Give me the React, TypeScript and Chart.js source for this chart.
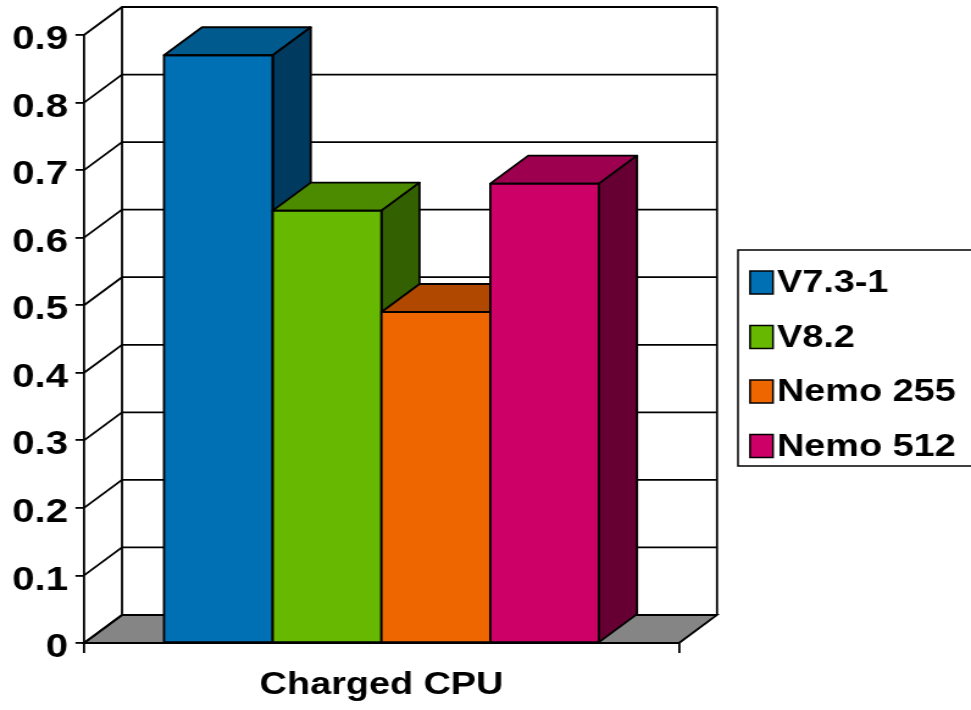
import React, { useEffect, useRef } from 'react';
import { Chart, registerables } from 'chart.js';

Chart.register(...registerables);

// ---- data ----
const categories = ['Charged CPU'];
const seriesNames = ['V7.3-1', 'V8.2', 'Nemo 255', 'Nemo 512'];
const v731 = [0.87];
const v82 = [0.64];
const nemo255 = [0.49];
const nemo512 = [0.68];
const yTickLabels = ['0', '0.1', '0.2', '0.3', '0.4', '0.5', '0.6', '0.7', '0.8', '0.9'];

// ---- styles ----
const frontColors = ['#0070B4', '#66B800', '#EE6600', '#CC0066'];
const topColors = ['#005A8E', '#4C8A00', '#B04800', '#9C004E'];
const sideColors = ['#003A5E', '#336000', '#7A3300', '#660033'];

const CW = 796; // internal canvas width (stretched horizontally to 971 on screen)
const CH = 710;
const SX = 971 / CW;
const DX = 38 / SX; // depth offset
const DY = -28;
const FONT = '"Liberation Sans", Arial, Helvetica, sans-serif';

const threeD = {
  id: 'threeD',
  beforeDatasetsDraw(chart: any) {
    const { ctx, chartArea: a, scales } = chart;
    const y = scales.y;
    const y0 = y.getPixelForValue(0);
    const yTop = y.getPixelForValue(y.max);
    ctx.save();
    ctx.lineWidth = 1.8;
    ctx.strokeStyle = '#000';
    // back wall
    ctx.fillStyle = '#ffffff';
    ctx.fillRect(a.left + DX, yTop + DY, a.right - a.left, y0 - yTop);
    // floor
    ctx.beginPath();
    ctx.moveTo(a.left, y0);
    ctx.lineTo(a.right, y0);
    ctx.lineTo(a.right + DX, y0 + DY);
    ctx.lineTo(a.left + DX, y0 + DY);
    ctx.closePath();
    ctx.fillStyle = '#858585';
    ctx.fill();
    ctx.stroke();
    // gridlines on side wall and back wall
    y.ticks.forEach((t: any) => {
      const py = y.getPixelForValue(t.value);
      ctx.beginPath();
      ctx.moveTo(a.left, py);
      ctx.lineTo(a.left + DX, py + DY);
      ctx.lineTo(a.right + DX, py + DY);
      ctx.stroke();
    });
    // back wall vertical edges
    ctx.beginPath();
    ctx.moveTo(a.left + DX, yTop + DY);
    ctx.lineTo(a.left + DX, y0 + DY);
    ctx.moveTo(a.right + DX, yTop + DY);
    ctx.lineTo(a.right + DX, y0 + DY);
    ctx.stroke();
    ctx.restore();
  },
  afterDatasetsDraw(chart: any) {
    const { ctx } = chart;
    // painter's order: left-most series first
    chart.data.datasets.forEach((_ds: any, i: number) => {
      const meta = chart.getDatasetMeta(i);
      meta.data.forEach((el: any) => {
        el.draw(ctx);
        const p = el.getProps(['x', 'y', 'base', 'width'], true);
        const l = p.x - p.width / 2;
        const r = p.x + p.width / 2;
        const t = Math.min(p.y, p.base);
        const b = Math.max(p.y, p.base);
        ctx.save();
        ctx.lineWidth = 1.8;
        ctx.strokeStyle = '#000';
        ctx.lineJoin = 'round';
        // top face
        ctx.beginPath();
        ctx.moveTo(l, t);
        ctx.lineTo(r, t);
        ctx.lineTo(r + DX, t + DY);
        ctx.lineTo(l + DX, t + DY);
        ctx.closePath();
        ctx.fillStyle = topColors[i];
        ctx.fill();
        ctx.stroke();
        // side face
        ctx.beginPath();
        ctx.moveTo(r, t);
        ctx.lineTo(r + DX, t + DY);
        ctx.lineTo(r + DX, b + DY);
        ctx.lineTo(r, b);
        ctx.closePath();
        ctx.fillStyle = sideColors[i];
        ctx.fill();
        ctx.stroke();
        // front outline
        ctx.strokeRect(l, t, r - l, b - t);
        ctx.restore();
      });
    });
  },
  afterDraw(chart: any) {
    const { ctx } = chart;
    const bx = 738 / SX;
    const by = 250;
    const bh = 216;
    ctx.save();
    ctx.lineWidth = 1.5;
    ctx.strokeStyle = '#000';
    ctx.fillStyle = '#fff';
    ctx.fillRect(bx, by, CW - bx + 10, bh);
    ctx.strokeRect(bx, by, CW - bx + 10, bh);
    chart.data.datasets.forEach((ds: any, k: number) => {
      const cy = by + 32.5 + k * 54.5;
      const sx = 750 / SX;
      const sw = 23 / SX;
      ctx.fillStyle = ds.backgroundColor;
      ctx.fillRect(sx, cy - 11.5, sw, 23);
      ctx.lineWidth = 1.5;
      ctx.strokeRect(sx, cy - 11.5, sw, 23);
      ctx.fillStyle = '#000';
      ctx.font = `bold 31px ${FONT}`;
      ctx.textAlign = 'left';
      ctx.textBaseline = 'middle';
      ctx.fillText(ds.label, 777 / SX, cy + 1);
    });
    ctx.restore();
  },
};

export default function App() {
  const ref = useRef<HTMLCanvasElement | null>(null);

  useEffect(() => {
    const canvas = ref.current;
    if (!canvas) return;
    const seriesValues = [v731, v82, nemo255, nemo512];
    const left = 84 / SX;
    const right = 679 / SX;
    const chart = new Chart(canvas, {
      type: 'bar',
      data: {
        labels: categories,
        datasets: seriesNames.map((name, i) => ({
          label: name,
          data: seriesValues[i],
          backgroundColor: frontColors[i],
          borderColor: '#000',
          borderWidth: 0,
          categoryPercentage: (435 / SX) / (right - left),
          barPercentage: 1,
          clip: false as any,
        })),
      },
      options: {
        animation: false,
        responsive: false,
        devicePixelRatio: 1,
        events: [],
        layout: { padding: { top: 35, right: CW - right, left: 0, bottom: 0 } },
        plugins: { legend: { display: false }, tooltip: { enabled: false } },
        scales: {
          x: {
            afterFit: (s: any) => { s.height = CH - 643; },
            grid: { offset: true, drawOnChartArea: false, drawTicks: true, tickLength: 10, color: '#000', lineWidth: 1.8 },
            border: { display: true, color: '#000', width: 1.8 },
            ticks: { color: '#000', font: { family: FONT, size: 31, weight: 'bold' }, padding: 14 },
          },
          y: {
            min: 0,
            max: 0.9,
            afterFit: (s: any) => { s.width = left; },
            grid: { drawOnChartArea: false, drawTicks: true, tickLength: 7, color: '#000', lineWidth: 1.8 },
            border: { display: true, color: '#000', width: 1.8 },
            ticks: {
              stepSize: 0.1,
              autoSkip: false,
              color: '#000',
              padding: 6,
              labelOffset: 5,
              font: { family: FONT, size: 33, weight: 'bold' },
              callback: (_v: any, idx: number) => yTickLabels[idx],
            },
          },
        },
      } as any,
      plugins: [threeD],
    });
    return () => chart.destroy();
  }, []);

  return (
    <div style={{ position: 'absolute', left: 0, top: 0, width: 971, height: 710, background: '#fff' }}>
      <canvas
        ref={ref}
        width={CW}
        height={CH}
        style={{ width: '971px', height: '710px', display: 'block' }}
      />
    </div>
  );
}
